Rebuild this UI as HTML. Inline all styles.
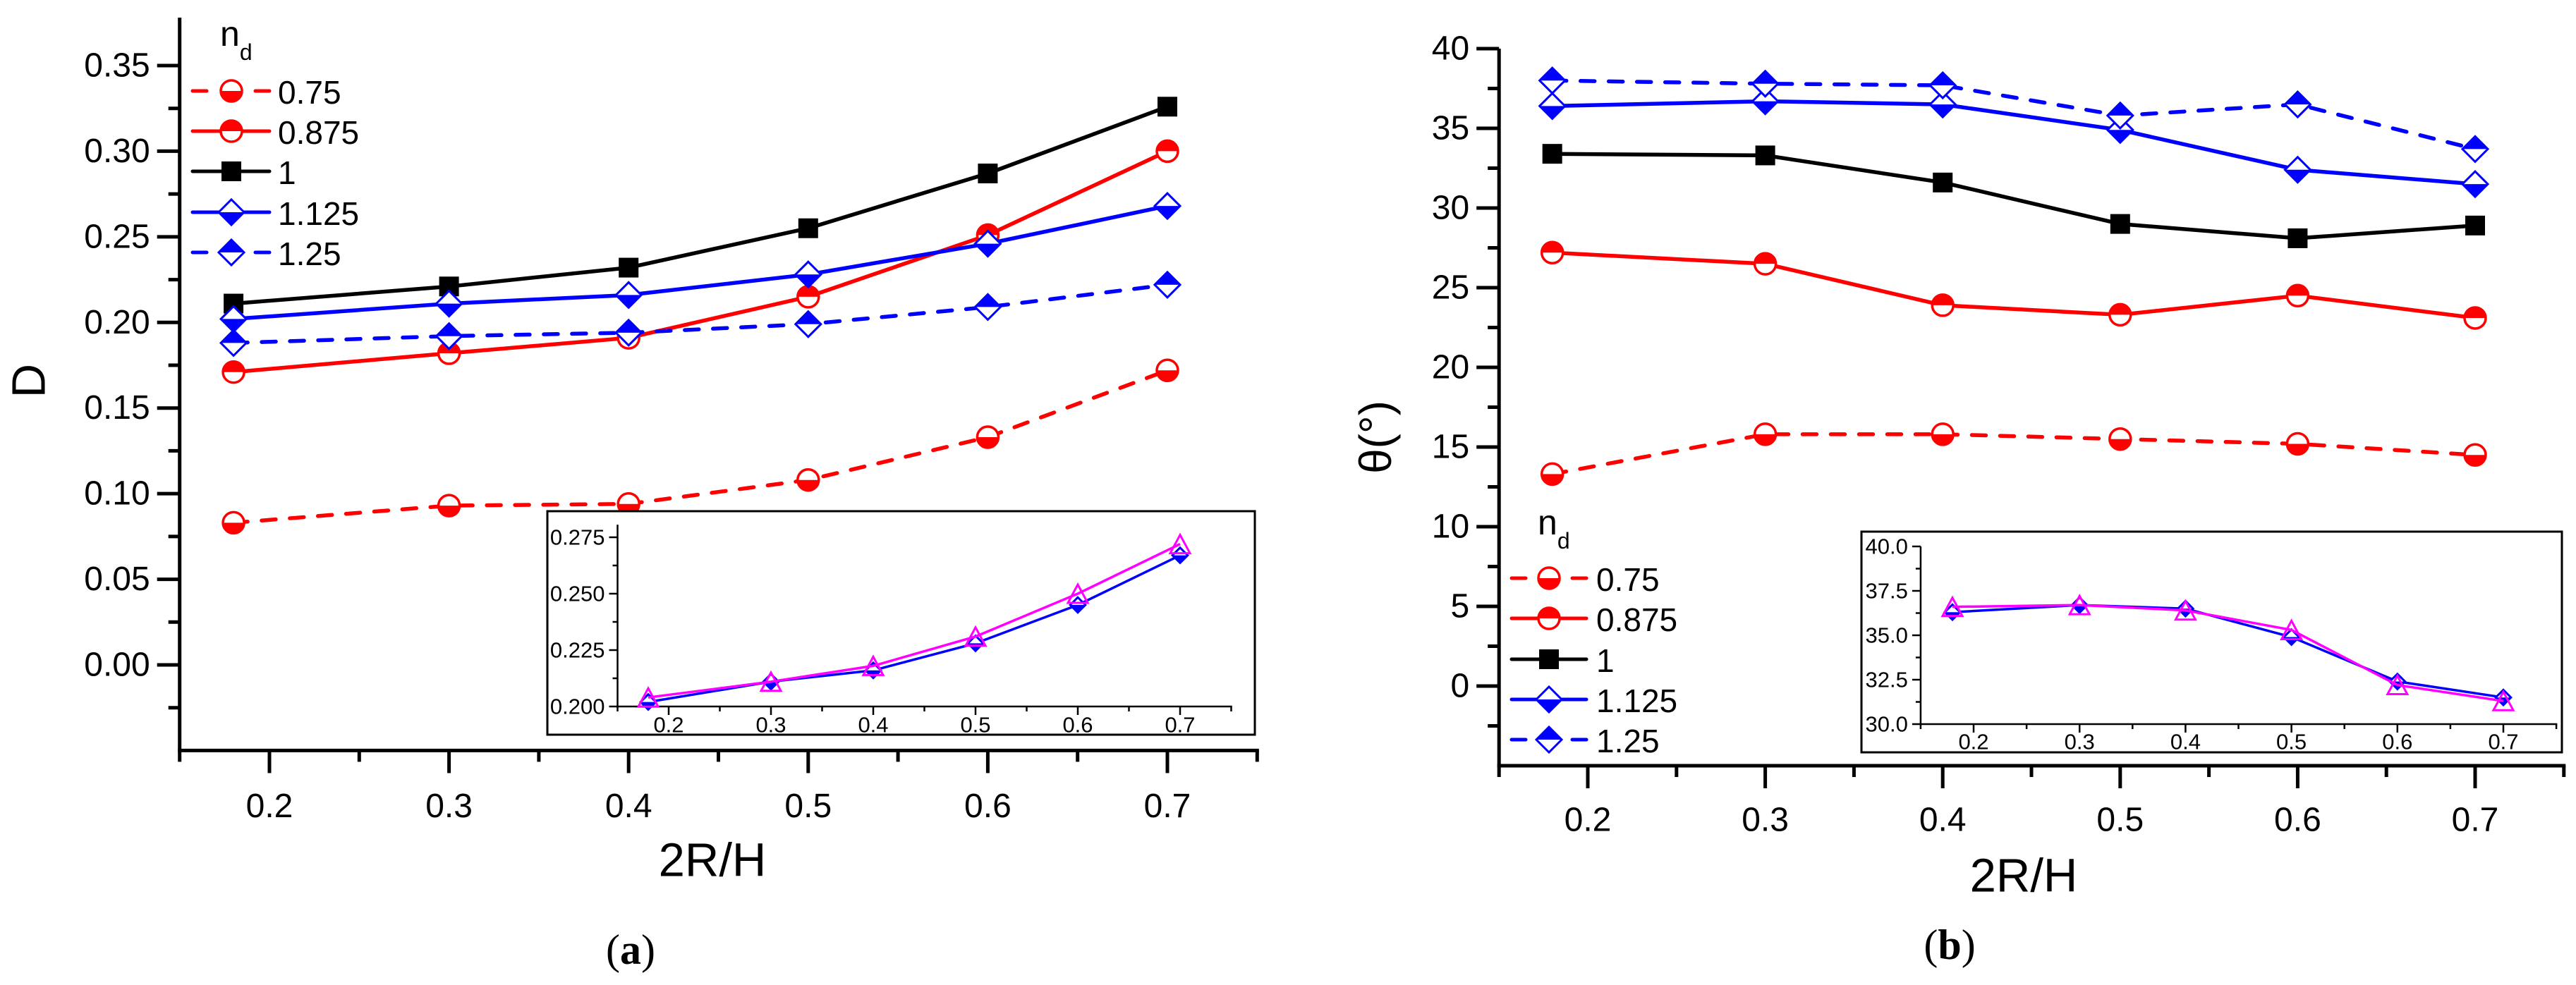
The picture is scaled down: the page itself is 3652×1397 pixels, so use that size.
<!DOCTYPE html>
<html><head><meta charset="utf-8"><style>
html,body{margin:0;padding:0;background:#fff;}
svg{display:block;font-family:"Liberation Sans",Arial,sans-serif;}
</style></head><body>
<svg id="fig" width="3652" height="1397" viewBox="0 0 3652 1397" xmlns="http://www.w3.org/2000/svg"></svg>
<script>
// ---- data ----
const xVals = [0.18, 0.30, 0.40, 0.50, 0.60, 0.70];
const seriesNames = ["0.75", "0.875", "1", "1.125", "1.25"];
const dA_075 = [0.083, 0.093, 0.094, 0.108, 0.133, 0.172];
const dA_0875 = [0.171, 0.182, 0.191, 0.215, 0.251, 0.300];
const dA_1 = [0.211, 0.221, 0.232, 0.255, 0.287, 0.326];
const dA_1125 = [0.202, 0.211, 0.216, 0.228, 0.246, 0.268];
const dA_125 = [0.188, 0.192, 0.194, 0.199, 0.209, 0.222];
const tB_075 = [13.3, 15.8, 15.8, 15.5, 15.2, 14.5];
const tB_0875 = [27.2, 26.5, 23.9, 23.3, 24.5, 23.1];
const tB_1 = [33.4, 33.3, 31.6, 29.0, 28.1, 28.9];
const tB_1125 = [36.4, 36.7, 36.5, 34.9, 32.4, 31.5];
const tB_125 = [38.0, 37.8, 37.7, 35.8, 36.5, 33.7];
const insetA_blue = [0.202, 0.211, 0.216, 0.228, 0.245, 0.267];
const insetA_mag = [0.204, 0.211, 0.218, 0.231, 0.250, 0.272];
const insetB_blue = [36.3, 36.7, 36.5, 34.9, 32.4, 31.5];
const insetB_mag = [36.6, 36.7, 36.4, 35.3, 32.2, 31.3];
const xTickLabels = ["0.2", "0.3", "0.4", "0.5", "0.6", "0.7"];
const yTickLabelsA = ["0.00", "0.05", "0.10", "0.15", "0.20", "0.25", "0.30", "0.35"];
const yTickLabelsB = ["0", "5", "10", "15", "20", "25", "30", "35", "40"];
const yTickLabelsIA = ["0.200", "0.225", "0.250", "0.275"];
const yTickLabelsIB = ["30.0", "32.5", "35.0", "37.5", "40.0"];

const NS = "http://www.w3.org/2000/svg";
const svg = document.getElementById("fig");
function mk(tag, attrs, parent) {
  const e = document.createElementNS(NS, tag);
  for (const k in attrs) e.setAttribute(k, attrs[k]);
  (parent || svg).appendChild(e);
  return e;
}
function lin(d0, d1, r0, r1) { return v => r0 + (v - d0) / (d1 - d0) * (r1 - r0); }

function marker(g, kind, cx, cy, color, s) {
  s = s || 1;
  if (kind === "circB" || kind === "circT") {
    const r = 15 * s;
    const sweep = kind === "circB" ? 0 : 1;
    mk("circle", {cx: cx, cy: cy, r: r, fill: "#fff", stroke: color, "stroke-width": 3.5}, g);
    mk("path", {d: `M${cx - r},${cy} A${r},${r} 0 0 ${sweep} ${cx + r},${cy} Z`, fill: color}, g);
  } else if (kind === "sq") {
    const h = 14 * s;
    mk("rect", {x: cx - h, y: cy - h, width: 2 * h, height: 2 * h, fill: color}, g);
  } else if (kind === "diaB" || kind === "diaT") {
    const r = 18 * s;
    mk("polygon", {points: `${cx - r},${cy} ${cx},${cy - r} ${cx + r},${cy} ${cx},${cy + r}`, fill: "#fff", stroke: color, "stroke-width": 3}, g);
    const yy = kind === "diaB" ? cy + r : cy - r;
    mk("polygon", {points: `${cx - r},${cy} ${cx + r},${cy} ${cx},${yy}`, fill: color}, g);
  } else if (kind === "tri") {
    const w = 14 * s, h = 13 * s;
    mk("polygon", {points: `${cx - w},${cy + h} ${cx + w},${cy + h} ${cx},${cy - h}`, fill: "none", stroke: color, "stroke-width": 3}, g);
  }
}

const styles = [
  {color: "#ff0000", dash: true, m: "circB"},
  {color: "#ff0000", dash: false, m: "circT"},
  {color: "#000000", dash: false, m: "sq"},
  {color: "#0000ff", dash: false, m: "diaB"},
  {color: "#0000ff", dash: true, m: "diaT"}
];

function drawSeries(g, xs, ys, X, Y, st, lw, ms) {
  const pts = xs.map((x, i) => `${X(x).toFixed(1)},${Y(ys[i]).toFixed(1)}`).join(" ");
  const pl = mk("polyline", {points: pts, fill: "none", stroke: st.color, "stroke-width": lw, "stroke-linejoin": "round", "stroke-linecap": "round"}, g);
  if (st.dash) pl.setAttribute("stroke-dasharray", "20 20");
  xs.forEach((x, i) => marker(g, st.m, X(x), Y(ys[i]), st.color, ms));
}

function text(parent, x, y, str, size, anchor, extra) {
  const t = mk("text", Object.assign({x: x, y: y, "font-size": size, "text-anchor": anchor || "middle", "dominant-baseline": "central", fill: "#000"}, extra || {}), parent);
  t.textContent = str;
  return t;
}

function axes(g, o) {
  mk("line", {x1: o.X(o.xmin), y1: o.Y(o.ymin), x2: o.X(o.xmin), y2: o.Y(o.ymax), stroke: "#000", "stroke-width": o.lw}, g);
  mk("line", {x1: o.X(o.xmin) - o.lw / 2, y1: o.Y(o.ymin), x2: o.X(o.xmax) + o.lw / 2, y2: o.Y(o.ymin), stroke: "#000", "stroke-width": o.lw}, g);
  o.yMinor.forEach(v => mk("line", {x1: o.X(o.xmin), y1: o.Y(v), x2: o.X(o.xmin) - o.ts, y2: o.Y(v), stroke: "#000", "stroke-width": o.lw}, g));
  o.yTicks.forEach((v, i) => {
    mk("line", {x1: o.X(o.xmin), y1: o.Y(v), x2: o.X(o.xmin) - o.tl, y2: o.Y(v), stroke: "#000", "stroke-width": o.lw}, g);
    const t = text(g, o.X(o.xmin) - o.tl - o.gap, o.Y(v), o.yLabels[i], o.font, "end");
    
    
  });
  o.xMinor.forEach(v => mk("line", {x1: o.X(v), y1: o.Y(o.ymin), x2: o.X(v), y2: o.Y(o.ymin) + o.ts, stroke: "#000", "stroke-width": o.lw}, g));
  o.xMajor.forEach((v, i) => {
    mk("line", {x1: o.X(v), y1: o.Y(o.ymin), x2: o.X(v), y2: o.Y(o.ymin) + o.tl, stroke: "#000", "stroke-width": o.lw}, g);
    const t = text(g, o.X(v), o.Y(o.ymin) + o.xlabOff, xTickLabels[i], o.font, "middle");
    
    
  });
}

const xMajorV = [0.2, 0.3, 0.4, 0.5, 0.6, 0.7];
const xMinorV = [0.15, 0.25, 0.35, 0.45, 0.55, 0.65, 0.75];

function legend(g, x0, x1, mx, tx, nY, ys, lx) {
  const t = mk("text", {x: lx, y: nY, "font-size": 50, fill: "#000"}, g);
  
  
  t.innerHTML = 'n<tspan font-size="32" dy="20">d</tspan>';
  styles.forEach((st, i) => {
    const e = mk("g", {}, g);
    
    
    if (st.dash) {
      mk("line", {x1: x0, y1: ys[i], x2: x0 + 20, y2: ys[i], stroke: st.color, "stroke-width": 5, "stroke-linecap": "round"}, e);
      mk("line", {x1: x1 - 20, y1: ys[i], x2: x1, y2: ys[i], stroke: st.color, "stroke-width": 5, "stroke-linecap": "round"}, e);
    } else {
      mk("line", {x1: x0, y1: ys[i], x2: x1, y2: ys[i], stroke: st.color, "stroke-width": 5, "stroke-linecap": "round"}, e);
    }
    marker(e, st.m, mx, ys[i], st.color, 1);
    text(e, tx, ys[i] + 2, seriesNames[i], 46, "start");
  });
}

// ================= Panel A =================
const gA = mk("g", {});


const XA = lin(0.2, 0.7, 382, 1655);
const YA = lin(0, 0.35, 943, 93);
const axA = mk("g", {}, gA);


axes(axA, {X: XA, Y: YA, xmin: 0.15, xmax: 0.75, ymin: -0.05, ymax: 0.378,
  yTicks: [0, 0.05, 0.1, 0.15, 0.2, 0.25, 0.3, 0.35], yLabels: yTickLabelsA,
  yMinor: [-0.025, 0.025, 0.075, 0.125, 0.175, 0.225, 0.275, 0.325],
  xMajor: xMajorV, xMinor: xMinorV, lw: 5, tl: 32, ts: 16, gap: 10, font: 48, xlabOff: 79});
const serA = [dA_075, dA_0875, dA_1, dA_1125, dA_125];
serA.forEach((d, i) => {
  const g = mk("g", {}, gA);
  
  
  drawSeries(g, xVals, d, XA, YA, styles[i], 5.5, 1);
});
legend(gA, 273, 382, 328, 394, 65, [129, 186, 243, 301, 358], 312);
const yTitleA = text(gA, 41, 540, "D", 67, "middle", {transform: "rotate(-90 41 540)"});


const xTitleA = text(gA, 1010, 1220, "2R/H", 67, "middle");


const capA = mk("text", {x: 894, y: 1347, "font-size": 60, "text-anchor": "middle", "dominant-baseline": "central", "font-family": "Liberation Serif, serif"}, gA);


capA.innerHTML = '(<tspan font-weight="bold">a</tspan>)';

const iA = mk("g", {}, gA);


mk("rect", {x: 776, y: 725, width: 1779 - 776, height: 1042 - 725, fill: "#fff", stroke: "#000", "stroke-width": 3}, iA);
const XIA = lin(0.2, 0.7, 948, 1673);
const YIA = lin(0.2, 0.275, 1002, 762);
axes(iA, {X: XIA, Y: YIA, xmin: 0.15, xmax: 0.75, ymin: 0.2, ymax: 0.2806,
  yTicks: [0.2, 0.225, 0.25, 0.275], yLabels: yTickLabelsIA, yMinor: [0.2125, 0.2375, 0.2625],
  xMajor: xMajorV, xMinor: xMinorV, lw: 2.5, tl: 12, ts: 7, gap: 6, font: 31, xlabOff: 26});
[insetA_blue, insetA_mag].forEach((d, i) => {
  const g = mk("g", {}, iA);
  
  
  const col = i ? "#ff00ff" : "#0000ff";
  const pts = xVals.map((x, k) => `${XIA(x)},${YIA(d[k])}`).join(" ");
  mk("polyline", {points: pts, fill: "none", stroke: col, "stroke-width": 3.5}, g);
  xVals.forEach((x, k) => marker(g, i ? "tri" : "diaB", XIA(x), YIA(d[k]), col, i ? 1 : 0.6));
});

// ================= Panel B =================
const gB = mk("g", {});


const XB = lin(0.2, 0.7, 2251, 3509);
const YB = lin(0, 40, 973, 69);
const axB = mk("g", {}, gB);


axes(axB, {X: XB, Y: YB, xmin: 0.15, xmax: 0.75, ymin: -5, ymax: 40,
  yTicks: [0, 5, 10, 15, 20, 25, 30, 35, 40], yLabels: yTickLabelsB,
  yMinor: [-2.5, 2.5, 7.5, 12.5, 17.5, 22.5, 27.5, 32.5, 37.5],
  xMajor: xMajorV, xMinor: xMinorV, lw: 5, tl: 32, ts: 16, gap: 10, font: 48, xlabOff: 77});
const serB = [tB_075, tB_0875, tB_1, tB_1125, tB_125];
serB.forEach((d, i) => {
  const g = mk("g", {}, gB);
  
  
  drawSeries(g, xVals, d, XB, YB, styles[i], 5.5, 1);
});
legend(gB, 2143, 2249, 2196, 2263, 758, [820, 877, 935, 992, 1049], 2180);
const yTitleB = text(gB, 1950, 620, "θ(°)", 64, "middle", {transform: "rotate(-90 1950 620)"});


const xTitleB = text(gB, 2869, 1242, "2R/H", 67, "middle");


const capB = mk("text", {x: 2764, y: 1340, "font-size": 60, "text-anchor": "middle", "dominant-baseline": "central", "font-family": "Liberation Serif, serif"}, gB);


capB.innerHTML = '(<tspan font-weight="bold">b</tspan>)';

const iB = mk("g", {}, gB);


mk("rect", {x: 2639, y: 754, width: 3632 - 2639, height: 1067 - 754, fill: "#fff", stroke: "#000", "stroke-width": 3}, iB);
const XIB = lin(0.2, 0.7, 2798, 3549);
const YIB = lin(30, 40, 1027, 775);
axes(iB, {X: XIB, Y: YIB, xmin: 0.15, xmax: 0.75, ymin: 30, ymax: 40,
  yTicks: [30, 32.5, 35, 37.5, 40], yLabels: yTickLabelsIB, yMinor: [31.25, 33.75, 36.25, 38.75],
  xMajor: xMajorV, xMinor: xMinorV, lw: 2.5, tl: 12, ts: 7, gap: 6, font: 31, xlabOff: 25});
[insetB_blue, insetB_mag].forEach((d, i) => {
  const g = mk("g", {}, iB);
  
  
  const col = i ? "#ff00ff" : "#0000ff";
  const pts = xVals.map((x, k) => `${XIB(x)},${YIB(d[k])}`).join(" ");
  mk("polyline", {points: pts, fill: "none", stroke: col, "stroke-width": 3.5}, g);
  xVals.forEach((x, k) => marker(g, i ? "tri" : "diaB", XIB(x), YIB(d[k]), col, i ? 1 : 0.6));
});
</script>
</body></html>
